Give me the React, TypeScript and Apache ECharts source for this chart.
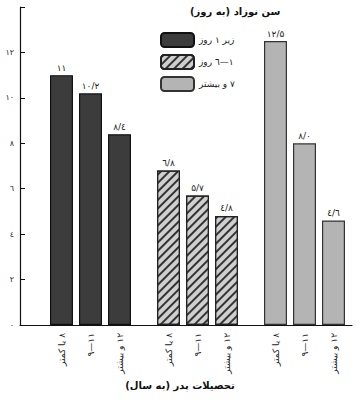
import React, { useEffect, useRef } from "react";
import * as echarts from "echarts";

const RLM = "\u200F";
const legendTitle = "سن نوزاد (به روز)";
const axisTitle = "تحصیلات پدر (به سال)";
const ageGroups = ["زیر ۱ روز", "۱—٦ روز", "۷ و بیشتر"];
const educationLevels = [RLM + "۸ یا کمتر", "۹—۱۱", RLM + "۱۲ و بیشتر"];
const under1Day = [11.0, 10.2, 8.4];
const oneToSixDays = [6.8, 5.7, 4.8];
const sevenPlusDays = [12.5, 8.0, 4.6];
const under1Labels = ["۱۱", "۱۰/۲", "۸/٤"];
const oneToSixLabels = ["٦/۸", "۵/۷", "٤/۸"];
const sevenPlusLabels = ["۱۲/۵", "۸/۰", "٤/٦"];
const yTickValues = [0, 2, 4, 6, 8, 10, 12];
const yTickLabels = ["٠", "۲", "٤", "٦", "۸", "۱۰", "۱۲"];

const FONT = "DejaVu Sans";
const TOP = 7;
const BOTTOM = 75;
const Y_MAX = 14;

export default function App() {
  const ref = useRef<HTMLDivElement>(null);
  useEffect(() => {
    if (!ref.current) return;
    const chart = echarts.init(ref.current, null, { renderer: "svg" });
    const styles = [
      { color: "#3c3c3c", borderColor: "#111", borderWidth: 1.2 },
      {
        color: "#cfcfcf",
        borderColor: "#222",
        borderWidth: 1.2,
        decal: {
          symbol: "rect",
          dashArrayX: [1, 0],
          dashArrayY: [2, 4],
          rotation: -Math.PI / 4,
          color: "#333",
        },
      },
      { color: "#b4b4b4", borderColor: "#333", borderWidth: 1.2 },
    ];
    const datasets = [under1Day, oneToSixDays, sevenPlusDays];
    const labelSets = [under1Labels, oneToSixLabels, sevenPlusLabels];
    const subLefts = [47, 154, 261];
    const subWidth = 87;

    const grids: any[] = [{ left: 20, right: 8, top: TOP, bottom: BOTTOM }];
    const xAxes: any[] = [
      {
        gridIndex: 0,
        type: "value",
        min: 0,
        max: 1,
        axisLine: { show: true, lineStyle: { color: "#111", width: 1.2 } },
        axisTick: { show: false },
        axisLabel: { show: false },
        splitLine: { show: false },
      },
    ];
    const yAxes: any[] = [
      {
        gridIndex: 0,
        type: "value",
        min: 0,
        max: Y_MAX,
        interval: 2,
        axisLine: { show: true, lineStyle: { color: "#111", width: 1.2 } },
        axisTick: { show: true, inside: true, length: 5, lineStyle: { color: "#111" } },
        splitLine: { show: false },
        axisLabel: {
          margin: 6,
          fontFamily: FONT,
          fontSize: 8,
          color: "#222",
          formatter: (v: number) => {
            const i = yTickValues.indexOf(v);
            return i >= 0 ? yTickLabels[i] : "";
          },
        },
      },
    ];
    const series: any[] = [];
    for (let g = 0; g < 3; g++) {
      grids.push({ left: subLefts[g], width: subWidth, top: TOP, bottom: BOTTOM });
      xAxes.push({
        gridIndex: g + 1,
        type: "category",
        data: educationLevels,
        axisLine: { show: false },
        axisTick: { show: false },
        axisLabel: {
          rotate: 90,
          margin: 8,
          fontFamily: FONT,
          fontSize: 9,
          color: "#222",
        },
      });
      yAxes.push({
        gridIndex: g + 1,
        type: "value",
        min: 0,
        max: Y_MAX,
        show: false,
        splitLine: { show: false },
      });
      const labels = labelSets[g];
      series.push({
        type: "bar",
        name: ageGroups[g],
        xAxisIndex: g + 1,
        yAxisIndex: g + 1,
        data: datasets[g],
        barWidth: 23,
        itemStyle: styles[g],
        label: {
          show: true,
          position: "top",
          distance: 3,
          fontFamily: FONT,
          fontSize: 9,
          color: "#222",
          formatter: (p: any) => labels[p.dataIndex],
        },
      });
    }

    chart.setOption({
      animation: false,
      backgroundColor: "#fff",
      grid: grids,
      xAxis: xAxes,
      yAxis: yAxes,
      series,
      legend: {
        orient: "vertical",
        left: 155,
        top: 27,
        itemWidth: 33,
        itemHeight: 14,
        itemGap: 6,
        data: ageGroups,
        formatter: (n: string) => RLM + n,
        textStyle: { fontFamily: FONT, fontSize: 9, color: "#222" },
      },
      graphic: [
        {
          type: "text",
          left: 190,
          top: 6,
          style: {
            text: RLM + legendTitle + RLM,
            font: `bold 10px "${FONT}"`,
            fill: "#111",
          },
        },
        {
          type: "text",
          left: "center",
          top: 380,
          style: {
            text: RLM + axisTitle + RLM,
            font: `bold 10px "${FONT}"`,
            fill: "#111",
          },
        },
      ],
    });
    return () => chart.dispose();
  }, []);
  return (
    <div
      ref={ref}
      style={{ position: "absolute", left: 0, top: 0, width: 360, height: 400 }}
    />
  );
}
